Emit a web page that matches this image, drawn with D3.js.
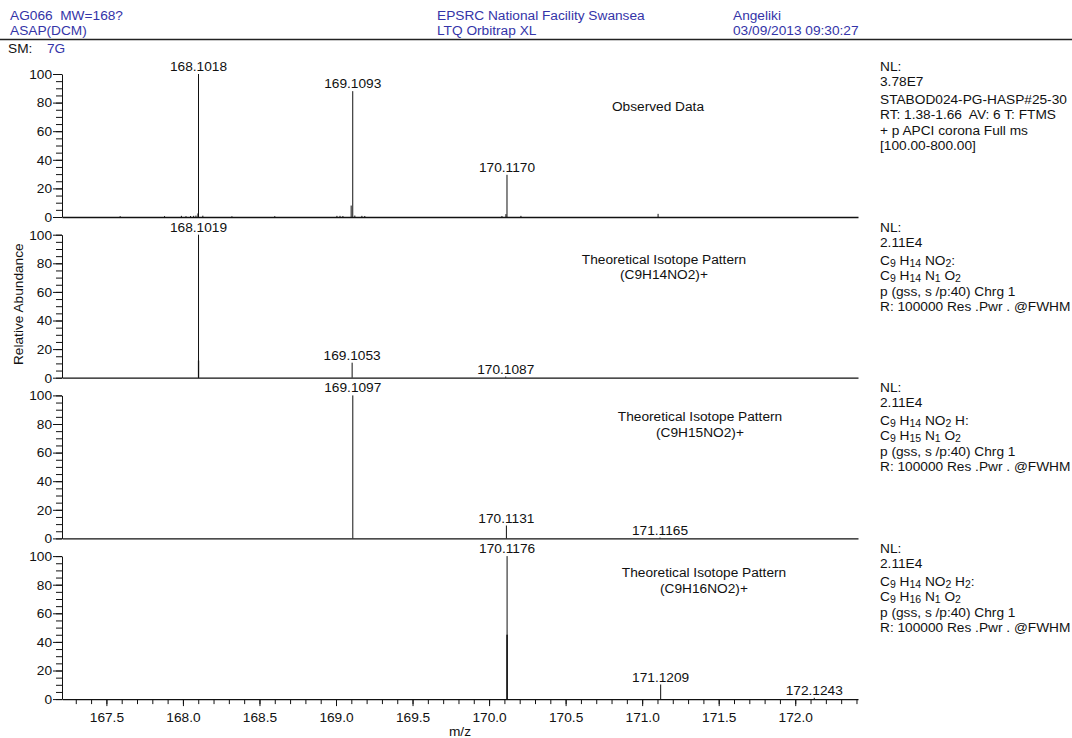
<!DOCTYPE html>
<html>
<head>
<meta charset="utf-8">
<script src="https://cdn.jsdelivr.net/npm/d3@7"></script>
<style>
  body { margin: 0; background: #fff; }
  svg text { font-family: "Liberation Sans", Arial, sans-serif; font-size: 13.7px; fill: #111; white-space: pre; }
  .axis path, .axis line { stroke: #111; }
  .axis text { font-family: "Liberation Sans", Arial, sans-serif; font-size: 13.7px; fill: #111; }
</style>
</head>
<body>
<div id="chart"></div>
<script>
'use strict';

// shared m/z range of all four panels
const mzDomain = [167.21, 172.41];
const mzTickLabels = [167.5, 168.0, 168.5, 169.0, 169.5, 170.0, 170.5, 171.0, 171.5, 172.0];
const abundanceTicks = [0, 20, 40, 60, 80, 100];

// observed spectrum, [m/z, relative abundance]
const observedPeaks = [
    [167.59, 0.6], [167.88, 0.6], [167.99, 0.8], [168.02, 0.6], [168.05, 0.7],
    [168.07, 0.8], [168.085, 1.0], [168.098, 2.5], [168.1018, 100], [168.13, 0.9],
    [168.32, 0.5], [168.60, 0.6], [169.006, 0.8], [169.026, 0.8], [169.045, 0.7],
    [169.099, 8], [169.1093, 88], [169.123, 1], [169.169, 0.8], [169.188, 0.7],
    [170.084, 0.7], [170.11, 2], [170.1170, 29.5], [170.208, 0.8], [171.104, 2.2]
];
const observedLabels = [168.1018, 169.1093, 170.1170];

// theoretical isotope patterns (profile sticks around each peak)
const c9h14Peaks = [[168.1009, 12], [168.1019, 100], [168.1029, 12], [169.1053, 10.5], [170.1087, 0.8]];
const c9h14Labels = [168.1019, 169.1053, 170.1087];

const c9h15Peaks = [[169.1097, 100], [170.1131, 9], [171.1165, 0.6]];
const c9h15Labels = [169.1097, 170.1131, 171.1165];

const c9h16Peaks = [[170.1168, 45], [170.1176, 100], [170.1184, 45], [171.1209, 10.2], [172.1243, 0.9]];
const c9h16Labels = [170.1176, 171.1209, 172.1243];

// header and side texts
const headerLeft = ["AG066  MW=168?", "ASAP(DCM)"];
const headerMid = ["EPSRC National Facility Swansea", "LTQ Orbitrap XL"];
const headerRight = ["Angeliki", "03/09/2013 09:30:27"];

const observedNote = ["Observed Data"];
const c9h14Note = ["Theoretical Isotope Pattern", "(C9H14NO2)+"];
const c9h15Note = ["Theoretical Isotope Pattern", "(C9H15NO2)+"];
const c9h16Note = ["Theoretical Isotope Pattern", "(C9H16NO2)+"];

// "_n" marks a subscript
const observedInfo = ["NL:", "3.78E7", "STABOD024-PG-HASP#25-30", "RT: 1.38-1.66  AV: 6 T: FTMS", "+ p APCI corona Full ms", "[100.00-800.00]"];
const c9h14Info = ["NL:", "2.11E4", "C_9 H_14 NO_2:", "C_9 H_14 N_1 O_2", "p (gss, s /p:40) Chrg 1", "R: 100000 Res .Pwr . @FWHM"];
const c9h15Info = ["NL:", "2.11E4", "C_9 H_14 NO_2 H:", "C_9 H_15 N_1 O_2", "p (gss, s /p:40) Chrg 1", "R: 100000 Res .Pwr . @FWHM"];
const c9h16Info = ["NL:", "2.11E4", "C_9 H_14 NO_2 H_2:", "C_9 H_16 N_1 O_2", "p (gss, s /p:40) Chrg 1", "R: 100000 Res .Pwr . @FWHM"];

const W = 1072, H = 738;
const plotLeft = 62, plotRight = 858;
const panelTop0 = 74, panelStep = 160.7, panelHeight = 143;
const infoX = 880;
const infoDy = [-3, 12, 30, 45, 61, 76];

const panels = [
    { peaks: observedPeaks, labels: observedLabels, note: observedNote, info: observedInfo, noteX: 658, noteDy: 37 },
    { peaks: c9h14Peaks, labels: c9h14Labels, note: c9h14Note, info: c9h14Info, noteX: 664, noteDy: 29 },
    { peaks: c9h15Peaks, labels: c9h15Labels, note: c9h15Note, info: c9h15Info, noteX: 700, noteDy: 26 },
    { peaks: c9h16Peaks, labels: c9h16Labels, note: c9h16Note, info: c9h16Info, noteX: 704, noteDy: 21 }
];

const svg = d3.select("#chart")
    .append("svg")
    .attr("width", W)
    .attr("height", H);

const x = d3.scaleLinear().domain(mzDomain).range([plotLeft, plotRight]);

// header block
const drawHeader = () => {
    const cols = [[10, headerLeft], [437, headerMid], [733, headerRight]];
    cols.forEach(([cx, lines]) => {
        lines.forEach((t, i) => {
            svg.append("text")
                .attr("x", cx)
                .attr("y", 20 + i * 15)
                .style("fill", "#3434a8")
                .text(t);
        });
    });
    svg.append("line")
        .attr("x1", 0).attr("x2", W)
        .attr("y1", 39.5).attr("y2", 39.5)
        .attr("stroke", "#222")
        .attr("stroke-width", 1.5);
    svg.append("text").attr("x", 8).attr("y", 53).text("SM:");
    svg.append("text").attr("x", 47).attr("y", 53).style("fill", "#3434a8").text("7G");
}

// writes a line that may hold subscripts like "C_9"
const richText = (sel, str) => {
    const parts = str.split(/(_\d+)/).filter(p => p.length);
    let lowered = false;
    parts.forEach(p => {
        if (p[0] === "_") {
            sel.append("tspan").attr("dy", lowered ? 0 : 2).style("font-size", "10.5px").text(p.slice(1));
            lowered = true;
        } else {
            sel.append("tspan").attr("dy", lowered ? -2 : 0).text(p);
            lowered = false;
        }
    });
}

const drawPanel = (p, i) => {
    const top = panelTop0 + i * panelStep;
    const bottom = top + panelHeight;
    const y = d3.scaleLinear().domain([0, 100]).range([bottom, top]);
    const g = svg.append("g");

    // y axis: minor ticks every 5, labelled ticks every 20
    g.append("g")
        .attr("class", "axis")
        .attr("transform", "translate(" + plotLeft + ",0)")
        .call(d3.axisLeft(y).tickValues(d3.range(0, 101, 5)).tickSize(6).tickSizeOuter(0).tickFormat(""));
    g.append("g")
        .attr("class", "axis")
        .attr("transform", "translate(" + plotLeft + ",0)")
        .call(d3.axisLeft(y).tickValues(abundanceTicks).tickSize(9).tickSizeOuter(0).tickPadding(1))
        .call(a => a.select(".domain").remove());

    // baseline of the panel
    if (i < panels.length - 1) {
        g.append("g")
            .attr("class", "axis")
            .attr("transform", "translate(0," + bottom + ")")
            .call(d3.axisBottom(x).tickValues([]).tickSizeOuter(0))
            .select(".domain").attr("stroke-width", 1.3);
    }

    // stick spectrum
    g.selectAll("line.peak")
        .data(p.peaks)
        .enter()
        .append("line")
        .attr("class", "peak")
        .attr("x1", d => x(d[0]))
        .attr("x2", d => x(d[0]))
        .attr("y1", y(0))
        .attr("y2", d => y(d[1]))
        .attr("stroke", "#111")
        .attr("stroke-width", 1);

    // peak labels
    const heightAt = mz => d3.max(p.peaks.filter(d => Math.abs(d[0] - mz) < 0.003), d => d[1]);
    g.selectAll("text.peaklabel")
        .data(p.labels)
        .enter()
        .append("text")
        .attr("class", "peaklabel")
        .attr("x", d => x(d))
        .attr("y", d => y(heightAt(d)) - 3)
        .style("text-anchor", "middle")
        .text(d => d.toFixed(4));

    // centred annotation
    p.note.forEach((t, k) => {
        g.append("text")
            .attr("x", p.noteX)
            .attr("y", top + p.noteDy + k * 15.5)
            .style("text-anchor", "middle")
            .text(t);
    });

    // info block on the right
    p.info.forEach((t, k) => {
        const tx = g.append("text")
            .attr("x", infoX)
            .attr("y", top + infoDy[k]);
        richText(tx, t);
    });
}

const drawBottomAxis = () => {
    const bottom = panelTop0 + (panels.length - 1) * panelStep + panelHeight;
    const minor = d3.range(1673, 1725).map(v => v / 10);
    svg.append("g")
        .attr("class", "axis")
        .attr("transform", "translate(0," + bottom + ")")
        .call(d3.axisBottom(x).tickValues(minor).tickSize(5).tickSizeOuter(0).tickFormat(""))
        .select(".domain").attr("stroke-width", 1.3);
    svg.append("g")
        .attr("class", "axis")
        .attr("transform", "translate(0," + bottom + ")")
        .call(d3.axisBottom(x).tickValues(mzTickLabels).tickSize(7).tickSizeOuter(0).tickPadding(6).tickFormat(d3.format(".1f")))
        .call(a => a.select(".domain").remove());

    svg.append("text")
        .attr("x", (plotLeft + plotRight) / 2)
        .attr("y", 736)
        .style("text-anchor", "middle")
        .text("m/z");
}

drawHeader();
panels.forEach(drawPanel);
drawBottomAxis();

svg.append("text")
    .attr("transform", "translate(23," + (panelTop0 + panelStep + panelHeight / 2 - 2) + ") rotate(-90)")
    .style("text-anchor", "middle")
    .text("Relative Abundance");
</script>
</body>
</html>
